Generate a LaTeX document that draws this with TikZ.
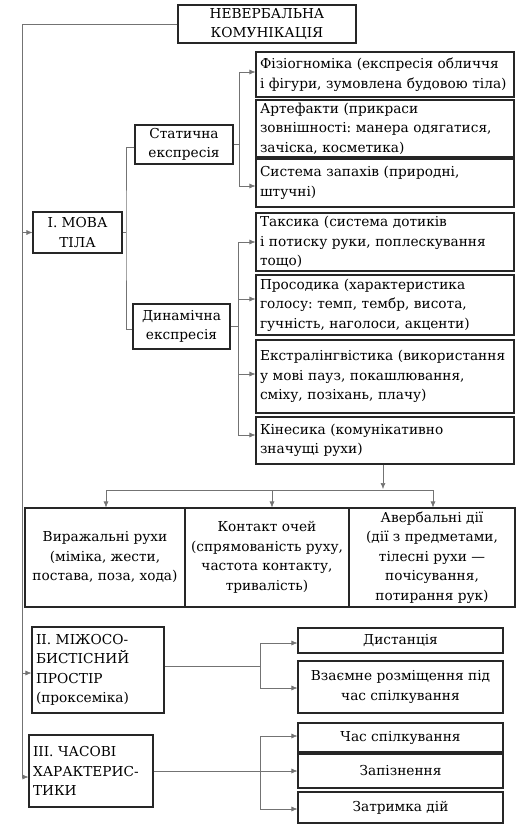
\documentclass[tikz,border=0pt]{standalone}
\usepackage{fontspec}
\setmainfont{DejaVu Serif}
\frenchspacing
\usetikzlibrary{arrows.meta}
\begin{document}
\begin{tikzpicture}[x=1pt,y=-1pt,
  box/.style={draw=black!85, line width=1.1pt, inner sep=2pt, font=\fontsize{13.7}{19.5}\selectfont},
  lbox/.style={box, align=left, text width=#1, inner xsep=4pt},
  cbox/.style={box, align=center},
  line/.style={draw=black!55, line width=0.6pt},
  arr/.style={line, -{Latex[length=6pt,width=5pt]}}]
\useasboundingbox (0,0) rectangle (516,836);
% top
\node[cbox, minimum width=178pt, minimum height=38pt] (top) at (267,24) {НЕВЕРБАЛЬНА\\КОМУНІКАЦІЯ};
% right column
\node[lbox=250pt, minimum height=45pt] (fiz) at (385,74.5) {Фізіогноміка (експресія обличчя\\і фігури, зумовлена будовою тіла)};
\node[lbox=250pt, minimum height=57pt] (art) at (385,128.5) {Артефакти (прикраси\\зовнішності: манера одягатися,\\зачіска, косметика)};
\node[lbox=250pt, minimum height=48pt] (sys) at (385,183) {Система запахів (природні,\\штучні)};
\node[lbox=250pt, minimum height=58pt] (taks) at (385,242) {Таксика (система дотиків\\і потиску руки, поплескування\\тощо)};
\node[lbox=250pt, minimum height=60pt] (pros) at (385,305) {Просодика (характеристика\\голосу: темп, тембр, висота,\\гучність, наголоси, акценти)};
\node[lbox=250pt, minimum height=73pt] (ekst) at (385,376.5) {Екстралінгвістика (використання\\у мові пауз, покашлювання,\\сміху, позіхань, плачу)};
\node[lbox=250pt, minimum height=47pt] (kin) at (385,440.5) {Кінесика (комунікативно\\значущі рухи)};
% middle column
\node[cbox, minimum width=98pt, minimum height=39pt] (stat) at (184,144.5) {Статична\\експресія};
\node[cbox, minimum width=97pt, minimum height=45pt] (dyn) at (181.5,326.5) {Динамічна\\експресія};
\node[cbox, minimum width=89pt, minimum height=41pt] (mova) at (77.5,232.5) {І. МОВА\\ТІЛА};
% three boxes
\node[cbox, minimum width=160pt, minimum height=99pt] (b1) at (105,557.5) {Виражальні рухи\\(міміка, жести,\\постава, поза, хода)};
\node[cbox, minimum width=164pt, minimum height=99pt] (b2) at (267,557.5) {Контакт очей\\(спрямованість руху,\\частота контакту,\\тривалість)};
\node[cbox, minimum width=166pt, minimum height=99pt] (b3) at (432,557.5) {Авербальні дії\\(дії з предметами,\\тілесні рухи —\\почісування,\\потирання рук)};
% II and III
\node[lbox=124pt, minimum height=86pt] (II) at (98,670) {ІІ. МІЖОСО-\\БИСТІСНИЙ\\ПРОСТІР\\(проксеміка)};
\node[lbox=116pt, minimum height=72pt] (III) at (91,771) {ІІІ. ЧАСОВІ\\ХАРАКТЕРИС-\\ТИКИ};
\node[cbox, minimum width=205pt, minimum height=25pt] (dist) at (400.5,640.5) {Дистанція};
\node[cbox, minimum width=205pt, minimum height=52pt] (vz) at (400.5,687) {Взаємне розміщення під\\час спілкування};
\node[cbox, minimum width=205pt, minimum height=29pt] (chas) at (400.5,737.5) {Час спілкування};
\node[cbox, minimum width=205pt, minimum height=34pt] (zap) at (400.5,771) {Запізнення};
\node[cbox, minimum width=205pt, minimum height=31pt] (zat) at (400.5,807.5) {Затримка дій};
% coordinates
\coordinate (L1) at (22,24);
\coordinate (L2) at (22,777);
\coordinate (m1) at (126,232.5);
\coordinate (s1) at (239,144.5);
\coordinate (d1) at (238,326.5);
\coordinate (k1) at (383,489);
\coordinate (h1) at (106,490);
\coordinate (h2) at (433,490);
\coordinate (p1) at (260,666);
\coordinate (q1) at (260,771);
% main left trunk
\draw[line] (top.west) -- (L1) -- (L2);
\draw[arr] (mova.west -| L1) -- (mova.west);
\draw[arr] ([yshift=-3pt]II.west -| L1) -- ([yshift=-3pt]II.west);
\draw[arr] (L2) -- ([yshift=-6pt]III.west);
% I branch
\draw[line] (mova.east) -- (m1);
\draw[line] ([yshift=-3pt]stat.west) -| (m1) |- ([yshift=-3pt]dyn.west);
% static
\draw[line] (stat.east) -- (s1);
\draw[arr] (s1) |- ([yshift=2.5pt]fiz.west);
\draw[arr] (s1) |- ([yshift=-3pt]sys.west);
% dynamic
\draw[line] (dyn.east) -- (d1);
\draw[arr] (d1) |- (taks.west);
\draw[arr] (d1) |- ([yshift=6pt]pros.west);
\draw[arr] (d1) |- ([yshift=2.5pt]ekst.west);
\draw[arr] (d1) |- ([yshift=5.5pt]kin.west);
% kinesics down
\draw[arr] (kin.south -| k1) -- (k1);
\draw[line] (h1) -- (h2);
\draw[arr] (h1) -- (b1.north -| h1);
\draw[arr] (b2.north |- h1) ++(5,0) -- ([xshift=5pt]b2.north);
\draw[arr] (h2) -- (b3.north -| h2);
% II
\draw[line] ([yshift=4pt]II.east) -- (p1);
\draw[arr] (p1) |- ([yshift=-2.5pt]dist.west);
\draw[arr] (p1) |- ([yshift=-1pt]vz.west);
% III
\draw[arr] (III.east) -- (zap.west);
\draw[arr] (q1) |- ([yshift=1.5pt]chas.west);
\draw[arr] (q1) |- ([yshift=-1.5pt]zat.west);
\end{tikzpicture}
\end{document}
